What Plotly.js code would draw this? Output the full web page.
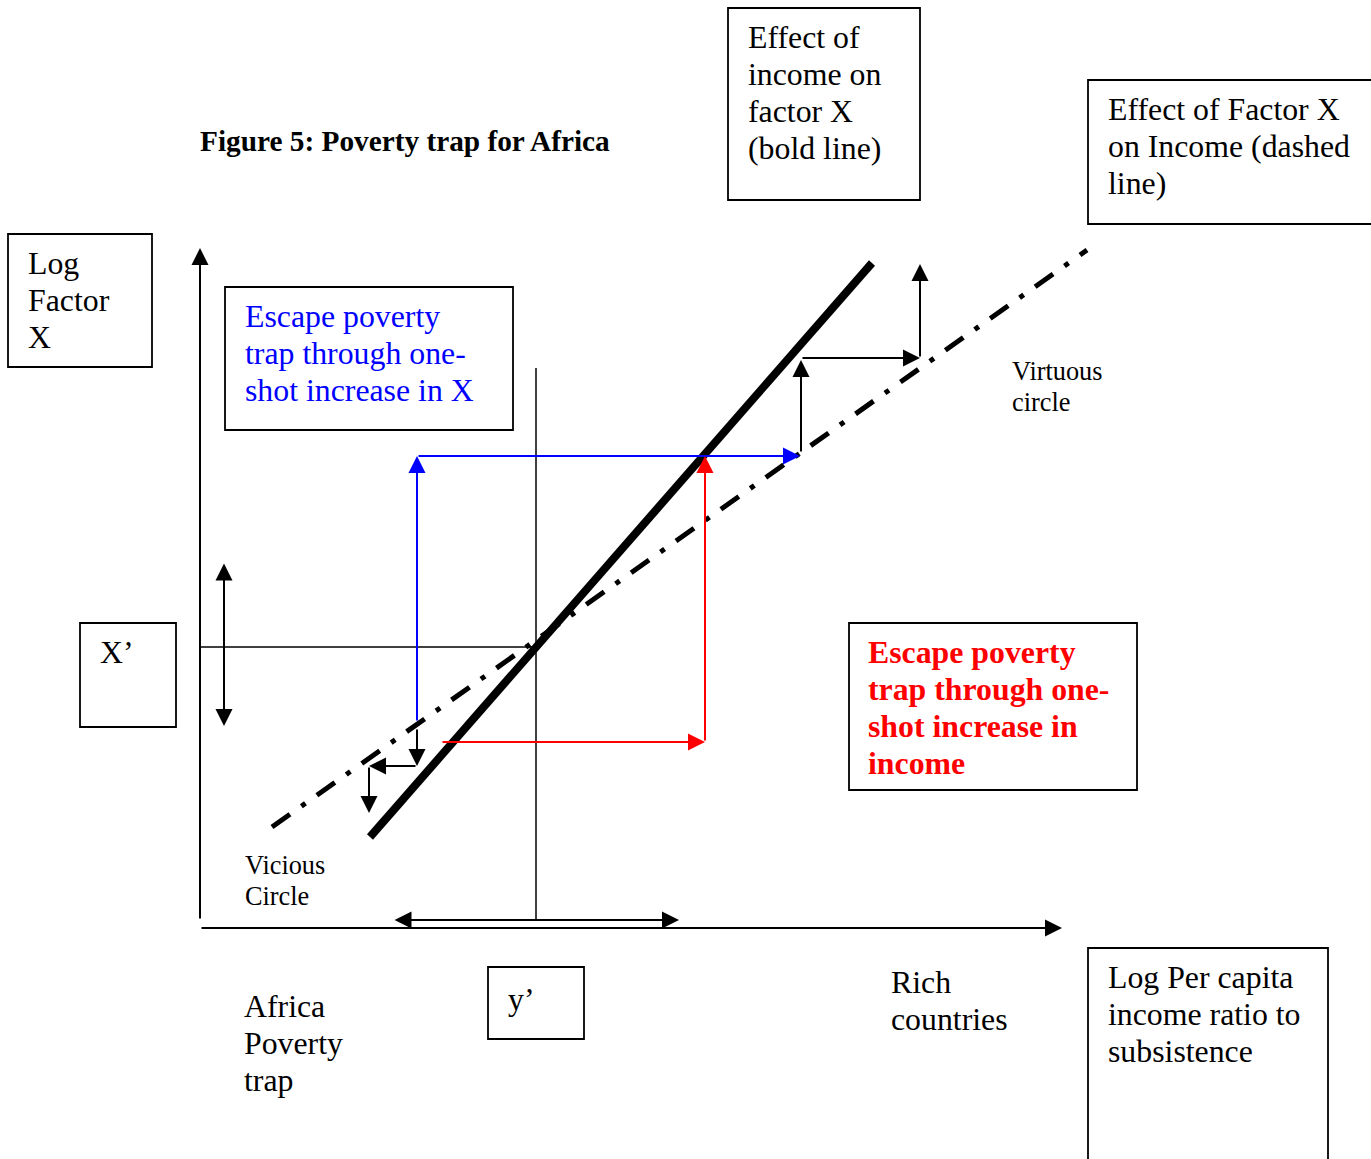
<!DOCTYPE html>
<html><head><meta charset="utf-8">
<script src="https://cdn.plot.ly/plotly-3.0.1.min.js"></script>
<style>html,body{margin:0;padding:0;background:#fff;overflow:hidden;}</style>
</head><body><div id="chart" style="width:1371px;height:1159px;"></div>
<script>
// ---- geometry of the diagram (in reference pixel coordinates) ----
const boldLineX = [370, 872], boldLineY = [837, 263];
const dashLineX = [272, 1087], dashLineY = [827, 250];
const xPrimeLineX = [200, 536], xPrimeLineY = [647, 647];
const yPrimeLineX = [536, 536], yPrimeLineY = [368, 920];
// arrows as [xFrom, yFrom, xTo, yTo]
const axisArrows = [[200, 920, 200, 248], [200, 928, 1062, 928]];
const blueArrows = [[417, 722, 417, 456], [417, 456, 800, 456]];
const redArrows = [[441, 742, 705, 742], [705, 742, 705, 456]];
const upperSteps = [[801, 453, 801, 360], [801, 358, 920, 358], [920, 358, 920, 264]];
const lowerSteps = [[417, 728, 417, 766], [417, 766, 369, 766], [369, 766, 369, 813]];
const doubleArrows = [[224, 562, 224, 726], [393, 920, 679, 920]];
// boxes as [x0, y0, x1, y1]
const boxes = [[728, 8, 920, 200], [1088, 80, 1373, 224], [8, 234, 152, 367], [225, 287, 513, 430],
               [849, 623, 1137, 790], [80, 623, 176, 727], [488, 967, 584, 1039], [1088, 948, 1328, 1161]];

// ---- texts ----
const titleText = 'Figure 5: Poverty trap for Africa';
const effectIncomeLines = ['Effect of', 'income on', 'factor X', '(bold line)'];
const effectFactorLines = ['Effect of Factor X', 'on Income (dashed', 'line)'];
const logFactorLines = ['Log', 'Factor', 'X'];
const blueLines = ['Escape poverty', 'trap through one-', 'shot increase in X'];
const redLines = ['Escape poverty', 'trap through one-', 'shot increase in', 'income'];
const virtuousLines = ['Virtuous', 'circle'];
const viciousLines = ['Vicious', 'Circle'];
const africaLines = ['Africa', 'Poverty', 'trap'];
const richLines = ['Rich', 'countries'];
const logIncomeLines = ['Log Per capita', 'income ratio to', 'subsistence'];
const xPrimeText = ['X\u2019'];
const yPrimeText = ['y\u2019'];

const SERIF = 'Liberation Serif, Times New Roman, serif';

const traces = [
  {x: boldLineX, y: boldLineY, mode: 'lines', line: {color: '#000', width: 8}},
  {x: dashLineX, y: dashLineY, mode: 'lines', line: {color: '#000', width: 5, dash: '22px,14px,5px,14px'}},
  {x: xPrimeLineX, y: xPrimeLineY, mode: 'lines', line: {color: '#000', width: 1.5}},
  {x: yPrimeLineX, y: yPrimeLineY, mode: 'lines', line: {color: '#000', width: 1.5}}
];

const annotations = [];
function arrow(a, color, width, both) {
  const s = 3.4 / width;
  const o = {x: a[2], y: a[3], ax: a[0], ay: a[1], xref: 'x', yref: 'y', axref: 'x', ayref: 'y',
    text: '', showarrow: true, arrowhead: 2, arrowsize: s, arrowwidth: width, arrowcolor: color, standoff: 0};
  if (both) { o.arrowside = 'end+start'; o.startarrowhead = 2; o.startarrowsize = s; o.startstandoff = 0; }
  annotations.push(o);
}
axisArrows.forEach(a => arrow(a, '#000', 2));
blueArrows.forEach(a => arrow(a, '#0000ff', 2));
redArrows.forEach(a => arrow(a, '#ff0000', 2));
upperSteps.forEach(a => arrow(a, '#000', 2));
lowerSteps.forEach(a => arrow(a, '#000', 2));
doubleArrows.forEach(a => arrow(a, '#000', 2, true));

function textBlock(lines, x, y0, dy, size, color, bold) {
  lines.forEach((t, i) => annotations.push({
    x: x, y: y0 + i * dy, xref: 'x', yref: 'y', xanchor: 'left', yanchor: 'middle', showarrow: false,
    text: bold ? '<b>' + t + '</b>' : t, font: {family: SERIF, size: size, color: color || '#000'}
  }));
}
textBlock([titleText], 198, 141, 0, 29.3, '#000', true);
textBlock(effectIncomeLines, 746, 37, 37, 31.8);
textBlock(effectFactorLines, 1106, 109, 37, 31.8);
textBlock(logFactorLines, 26, 263, 37, 31.8);
textBlock(blueLines, 243, 316, 37, 31.8, '#0000ff');
textBlock(redLines, 866, 652, 37, 31.8, '#ff0000', true);
textBlock(virtuousLines, 1010, 371, 31, 26.3);
textBlock(viciousLines, 243, 865, 31, 26.3);
textBlock(africaLines, 242, 1006, 37, 31.8);
textBlock(richLines, 889, 982, 37, 31.8);
textBlock(logIncomeLines, 1106, 977, 37, 31.8);
textBlock(xPrimeText, 98, 652, 37, 31.8);
textBlock(yPrimeText, 506, 999, 37, 31.8);

const shapes = boxes.map(b => ({type: 'rect', xref: 'x', yref: 'y', x0: b[0], y0: b[1], x1: b[2], y1: b[3],
  line: {color: '#000', width: 1.8}, fillcolor: 'rgba(0,0,0,0)'}));

const layout = {
  width: 1371, height: 1159, margin: {l: 0, r: 0, t: 0, b: 0},
  paper_bgcolor: '#fff', plot_bgcolor: '#fff', showlegend: false,
  xaxis: {range: [0, 1371], visible: false, fixedrange: true},
  yaxis: {range: [1159, 0], visible: false, fixedrange: true},
  annotations: annotations, shapes: shapes
};
Plotly.newPlot('chart', traces, layout, {staticPlot: true});
</script></body></html>
